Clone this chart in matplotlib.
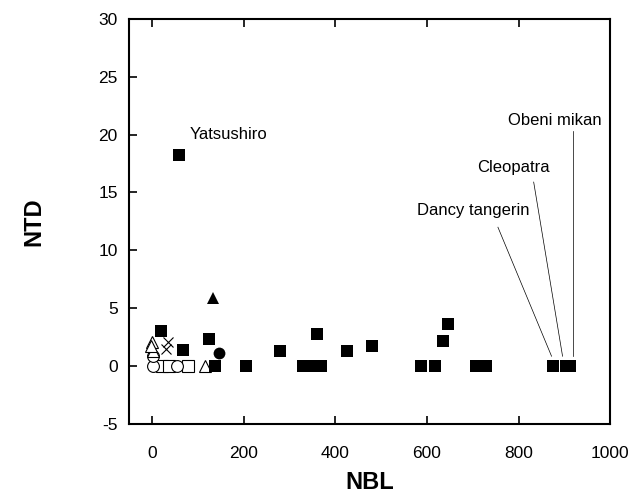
import numpy as np
from matplotlib import pyplot as plt

plt.rcParams['font.family'] = ['Liberation Sans', 'DejaVu Sans']
plt.rcParams['axes.unicode_minus'] = False

# filled squares
sq_x = [59, 20, 67, 124, 137, 205, 279, 330, 350, 370, 360, 425, 480,
        587, 617, 635, 646, 708, 728, 875, 903, 912]
sq_y = [18.2, 3.0, 1.4, 2.3, 0, 0, 1.3, 0, 0, 0, 2.8, 1.3, 1.7,
        0, 0, 2.2, 3.6, 0, 0, 0, 0, 0]
# filled triangle / circle
tri_x, tri_y = [133], [5.9]
circ_x, circ_y = [146], [1.1]
# open symbols
osq_x, osq_y = [22, 37, 79], [0, 0, 0]
ocirc_x, ocirc_y = [3, 55, 2], [0, 0, 0.9]
otri_x, otri_y = [0, 2, -2, 116], [2.1, 1.3, 1.7, 0]
ox_x, ox_y = [35, 30], [2.1, 1.5]

labels = ['Yatsushiro', 'Dancy tangerin', 'Cleopatra', 'Obeni mikan']

fig = plt.figure(figsize=(6.35, 4.97), dpi=100)
ax = fig.add_axes([0.203, 0.147, 0.758, 0.815])

ms = 8.5
ax.plot(osq_x, osq_y, 's', ms=ms, mfc='white', mec='black', mew=0.8)
ax.plot(ocirc_x, ocirc_y, 'o', ms=ms, mfc='white', mec='black', mew=0.8)
ax.plot(otri_x, otri_y, '^', ms=ms, mfc='white', mec='black', mew=0.8)
ax.plot(ox_x, ox_y, 'x', ms=ms - 1, mec='black', mew=0.8)
ax.plot(sq_x, sq_y, 's', ms=ms, color='black', mew=0)
ax.plot(tri_x, tri_y, '^', ms=ms, color='black', mew=0)
ax.plot(circ_x, circ_y, 'o', ms=ms, color='black', mew=0)

# labels
ax.text(83, 20.0, labels[0], fontsize=12, va='center', ha='left')
ax.text(824, 13.4, labels[1], fontsize=12, va='center', ha='right')
ax.text(868, 17.2, labels[2], fontsize=12, va='center', ha='right')
ax.text(981, 21.2, labels[3], fontsize=12, va='center', ha='right')
ax.plot([755, 872], [12.0, 0.85], color='black', lw=0.5)
ax.plot([833, 896], [15.9, 0.85], color='black', lw=0.5)
ax.plot([918, 918], [20.3, 0.85], color='black', lw=0.5)

ax.set_xlim(-50, 1000)
ax.set_ylim(-5, 30)
ax.set_xticks([0, 200, 400, 600, 800, 1000])
ax.set_yticks([-5, 0, 5, 10, 15, 20, 25, 30])
ax.tick_params(direction='in', length=6, width=1.2, labelsize=12.5,
               top=True, pad=8)
ax.tick_params(axis='x', pad=16)
for s in ax.spines.values():
    s.set_linewidth(1.5)
ax.set_xlabel('NBL', fontsize=17, fontweight='bold', labelpad=7)
ax.set_ylabel('NTD', fontsize=17, fontweight='bold', labelpad=38)

fig.savefig('out.png', dpi=100)
